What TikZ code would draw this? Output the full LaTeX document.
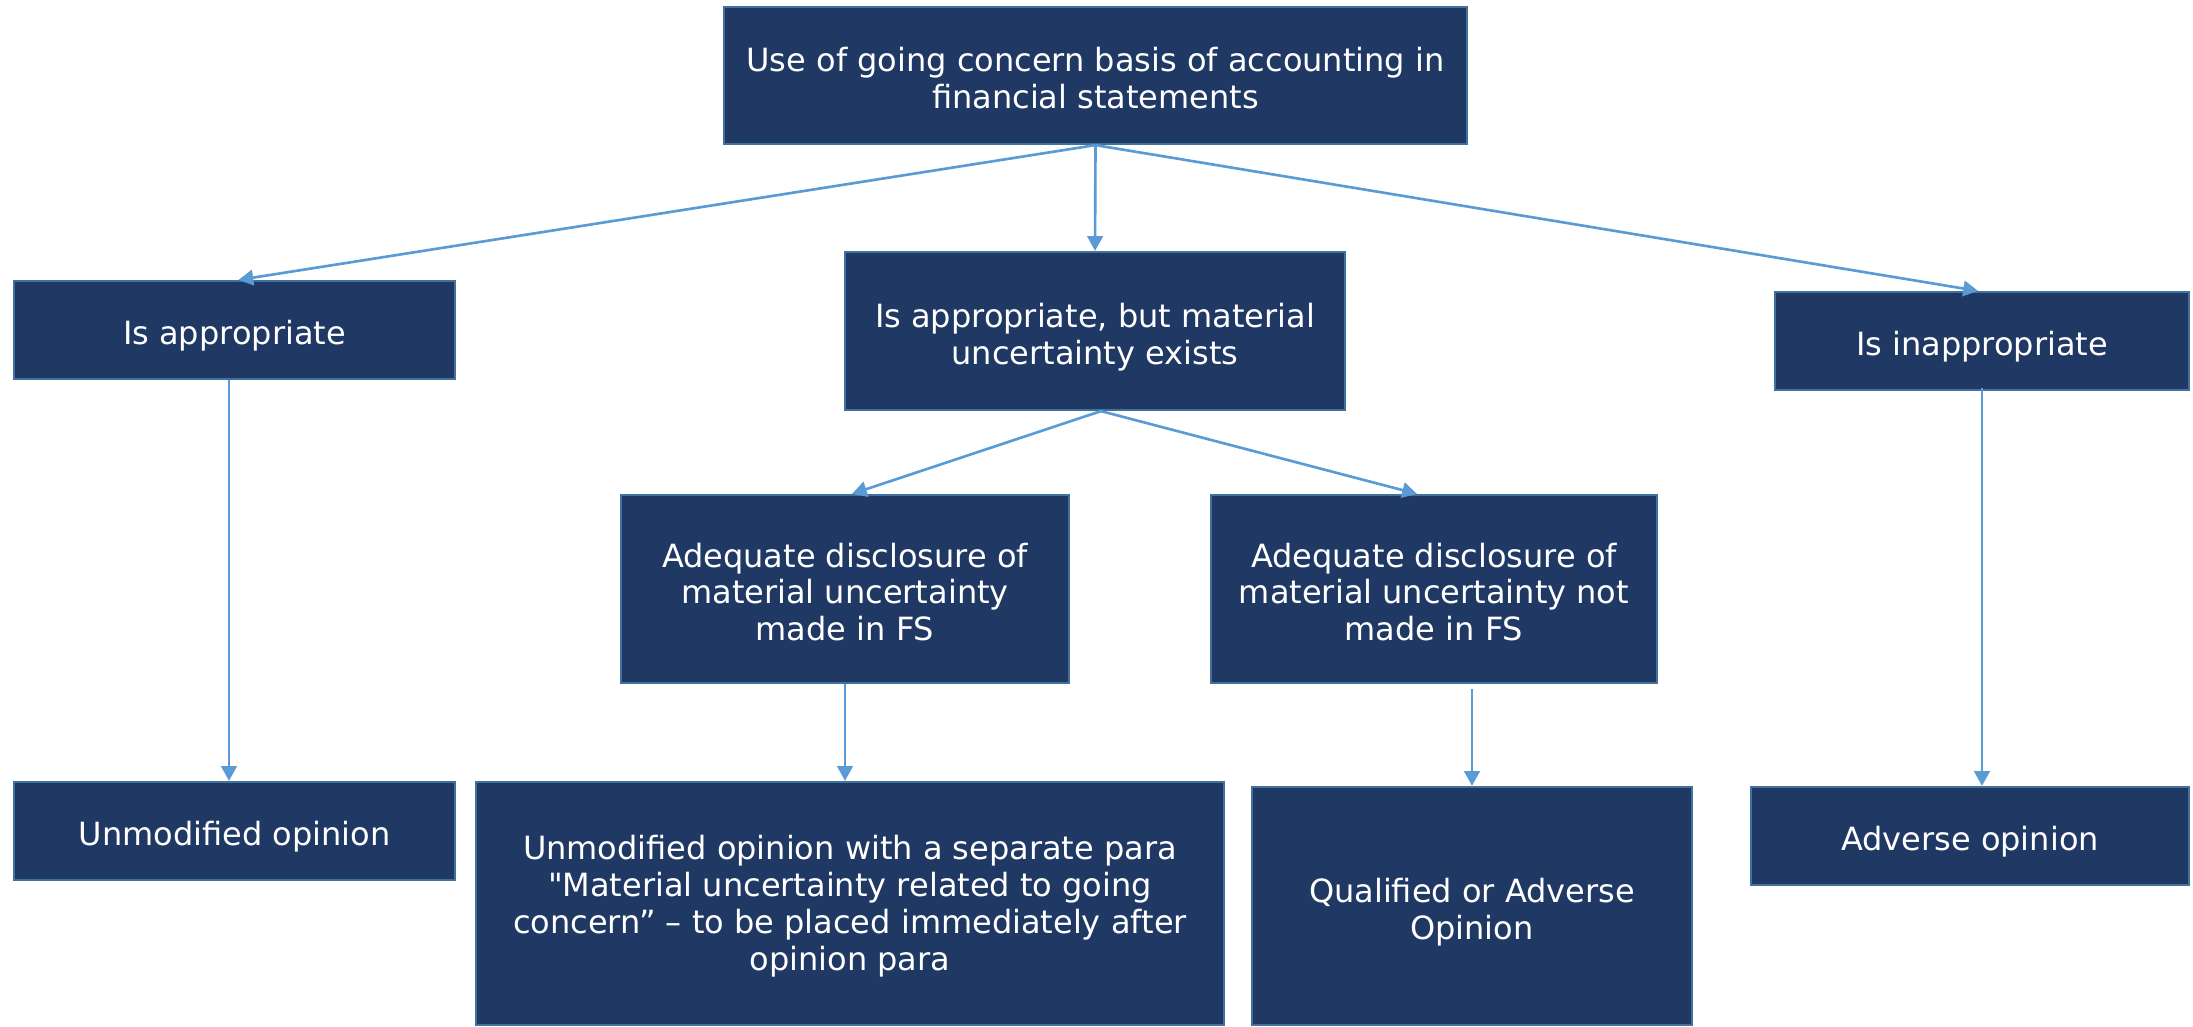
\documentclass[tikz,border=0pt]{standalone}
\usepackage{fontspec}
\setmainfont{DejaVu Sans}[Ligatures=TeXOff]
\usetikzlibrary{arrows.meta,calc}
\definecolor{boxfill}{HTML}{203864}
\definecolor{boxline}{HTML}{41719C}
\definecolor{linkblue}{HTML}{5B9BD5}
% struts that fix the height of the first line and the depth of the last one
\newcommand\firststrut{\rule{0pt}{10.8pt}}
\newcommand\laststrut{\rule[-2.3pt]{0pt}{2.3pt}}
\begin{document}
\begin{tikzpicture}[x=0.01cm,y=-0.01cm,
  box/.style={rectangle, draw=boxline, line width=0.6pt, fill=boxfill,
    text=white, align=center, inner sep=0pt,
    font=\fontsize{9.1}{10.5}\selectfont},
  link/.style={draw=linkblue, line width=0.75pt,
    -{Triangle[length=4.2pt,width=4.4pt]}, color=linkblue}]
  % page frame
  \path[use as bounding box, fill=white] (0,0) rectangle (2193,1026);

  % first level
  \node[box, minimum width=7.43cm, minimum height=1.37cm] (top) at (1095.5,75.5)
    {\firststrut Use of going concern basis of accounting in\\financial statements\laststrut};

  % second level
  \node[box, minimum width=4.41cm, minimum height=0.98cm] (isapp) at (234.5,330)
    {\firststrut Is appropriate\laststrut};
  \node[box, minimum width=5.00cm, minimum height=1.58cm] (mid) at (1095,331)
    {\firststrut Is appropriate, but material\\uncertainty exists\laststrut};
  \node[box, minimum width=4.14cm, minimum height=0.98cm] (inapp) at (1982,341)
    {\firststrut Is inappropriate\laststrut};

  % disclosure branches
  \node[box, minimum width=4.48cm, minimum height=1.88cm] (made) at (845,589)
    {\firststrut Adequate disclosure of\\material uncertainty\\made in FS\laststrut};
  \node[box, minimum width=4.46cm, minimum height=1.88cm] (notmade) at (1434,589)
    {\firststrut Adequate disclosure of\\material uncertainty not\\made in FS\laststrut};

  % opinions
  \node[box, minimum width=4.41cm, minimum height=0.98cm] (unmod) at (234.5,831)
    {\firststrut Unmodified opinion\laststrut};
  \node[box, minimum width=7.48cm, minimum height=2.43cm] (unmodpara) at (850,903.5)
    {\rule{0pt}{9pt}Unmodified opinion with a separate para\\"Material uncertainty related to going\\concern” – to be placed immediately after\\opinion para\laststrut};
  \node[box, minimum width=4.40cm, minimum height=2.38cm] (qual) at (1472,906)
    {\firststrut Qualified or Adverse\\Opinion\laststrut};
  \node[box, minimum width=4.38cm, minimum height=0.98cm] (adverse) at (1970,836)
    {\firststrut Adverse opinion\laststrut};

  % connectors
  \draw[link] (top.south) -- ($(isapp.north)+(4,0)$);
  \draw[link] (top.south) -- (mid.north);
  \draw[link] (top.south) -- ($(inapp.north)+(-4,0)$);
  \draw[link] ($(mid.south)+(6,0)$) -- ($(made.north)+(7,0)$);
  \draw[link] ($(mid.south)+(6,0)$) -- ($(notmade.north)+(-17,0)$);
  \draw[link] ($(isapp.south)+(-5.5,0)$) -- ($(unmod.north)+(-5.5,0)$);
  \draw[link] (made.south) -- (made.south |- unmodpara.north);
  \draw[link] ($(qual.north |- notmade.south)+(0,5)$) -- (qual.north);
  \draw[link] ($(inapp.south)+(0,-3)$) -- (inapp.south |- adverse.north);
\end{tikzpicture}
\end{document}
